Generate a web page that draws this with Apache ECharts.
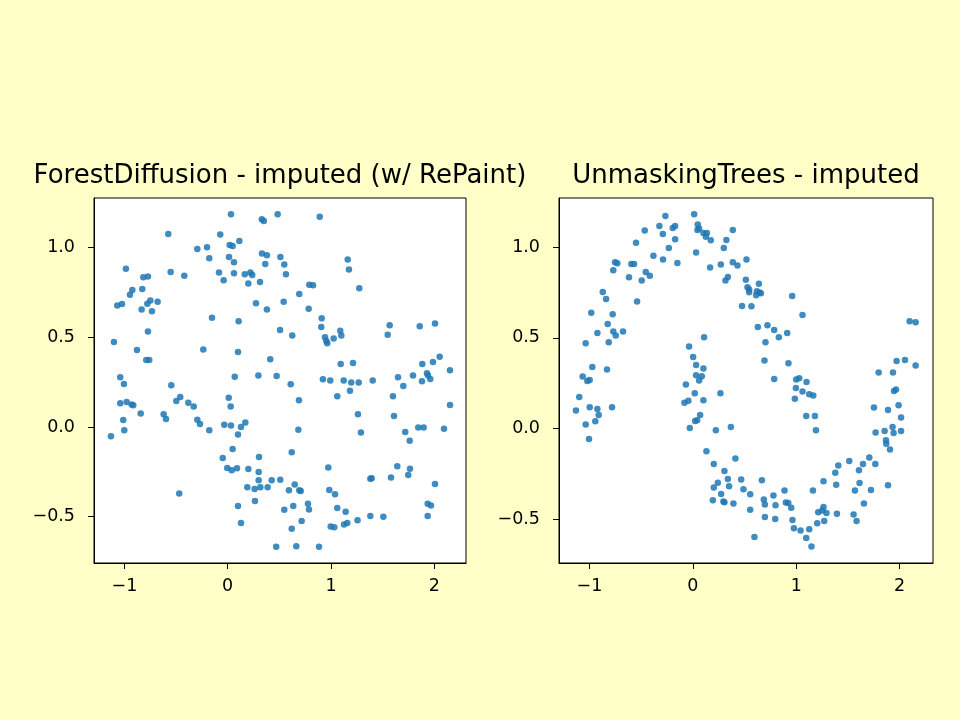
<!DOCTYPE html>
<html>
<head>
<meta charset="utf-8">
<title>imputed moons</title>
<script src="https://cdn.jsdelivr.net/npm/echarts@6.0.0/dist/echarts.min.js"></script>
<style>
  body { margin: 0; background: #ffffc8; }
  #chart { width: 960px; height: 720px; }
</style>
</head>
<body>
<div id="chart"></div>
<script>
// titles of the two panels
var titles = ['ForestDiffusion - imputed (w/ RePaint)', 'UnmaskingTrees - imputed'];

// tick values
var xTicks = [-1, 0, 1, 2];
var yTicks = [-0.5, 0, 0.5, 1.0];

// axis ranges
var leftXRange = [-1.294, 2.307];
var leftYRange = [-0.758, 1.277];
var rightXRange = [-1.294, 2.323];
var rightYRange = [-0.741, 1.271];

// points, left panel (ForestDiffusion)
var forestPoints = [
  [0.032,1.186],[0.33,1.158],[0.35,1.149],[0.484,1.186],[-0.575,1.076],[-0.072,1.073],
  [-0.294,0.993],[-0.2,1.002],[0.113,1.037],[0.019,1.015],[0.048,1.01],[-0.178,0.941],
  [0.013,0.948],[0.061,0.919],[0.332,0.967],[0.38,0.958],[0.364,0.909],[0.51,0.948],
  [-0.985,0.883],[-0.817,0.835],[-0.772,0.839],[-0.552,0.865],[-0.42,0.844],[-0.084,0.861],
  [0.061,0.857],[-0.039,0.818],[0.165,0.852],[0.219,0.861],[0.238,0.848],[0.2,0.8],
  [0.313,0.809],[-0.923,0.764],[-0.946,0.738],[-0.827,0.77],[-1.069,0.677],[-1.023,0.686],
  [-0.778,0.688],[-0.749,0.705],[-0.678,0.699],[-0.833,0.655],[-0.733,0.645],[0.274,0.69],
  [0.38,0.655],[0.507,0.541],[-0.152,0.61],[0.106,0.59],[-0.772,0.532],[-1.101,0.474],
  [-0.878,0.43],[-0.236,0.432],[0.1,0.418],[-0.788,0.374],[-0.759,0.374],[0.412,0.378],
  [-1.04,0.277],[-1.004,0.24],[0.068,0.281],[0.297,0.288],[0.474,0.285],[-0.546,0.233],
  [0.891,1.173],[0.548,0.906],[0.564,0.852],[1.162,0.934],[1.174,0.879],[0.79,0.794],
  [0.826,0.79],[0.693,0.742],[1.274,0.774],[0.542,0.699],[0.784,0.66],[0.91,0.606],
  [0.906,0.558],[0.625,0.51],[0.942,0.5],[0.955,0.48],[0.964,0.467],[1.026,0.493],
  [1.09,0.537],[1.1,0.511],[1.568,0.567],[1.549,0.515],[1.859,0.562],[2.007,0.577],
  [1.094,0.351],[1.213,0.357],[1.884,0.351],[1.987,0.363],[2.052,0.392],[2.152,0.316],
  [0.922,0.266],[0.993,0.259],[1.123,0.259],[1.196,0.249],[1.268,0.249],[1.404,0.26],
  [1.649,0.277],[1.794,0.288],[1.929,0.3],[1.939,0.287],[1.961,0.268],[1.881,0.255],
  [0.61,0.238],[1.7,0.229],
  [-1.04,0.132],[-0.978,0.139],[-0.93,0.125],[-0.914,0.121],[-0.842,0.075],[-1.011,0.039],
  [-1.001,-0.018],[-1.13,-0.052],[-0.62,0.071],[-0.597,0.045],[-0.497,0.145],[-0.459,0.167],
  [-0.381,0.136],[-0.329,0.115],[-0.294,0.041],[-0.268,0.017],[-0.178,-0.018],[0.01,0.164],
  [0.029,0.115],[-0.033,0.013],[0.032,0.009],[0.1,-0.041],[0.129,0],[0.171,0.026],
  [0.048,-0.123],[-0.048,-0.173],[-0.004,-0.229],[0.039,-0.241],[0.09,-0.23],[0.2,-0.234],
  [0.303,-0.167],[0.3,-0.251],[0.3,-0.297],[0.426,-0.297],[0.509,-0.294],[0.19,-0.335],
  [0.261,-0.346],[0.316,-0.336],[0.387,-0.335],[0.264,-0.413],[0.1,-0.44],[0.129,-0.535],
  [-0.469,-0.37],[0.47,-0.667],
  [0.69,0.149],[1.061,0.171],[1.184,0.203],[1.6,0.171],[2.152,0.123],[1.261,0.071],
  [1.61,0.061],[0.684,-0.015],[1.29,-0.031],[1.719,-0.028],[1.762,-0.076],[1.845,-0.002],
  [1.897,-0.002],[2.094,-0.009],[0.62,-0.141],[0.974,-0.225],[0.649,-0.321],[0.593,-0.353],
  [0.693,-0.353],[0.707,-0.357],[0.984,-0.351],[1.039,-0.374],[1.381,-0.288],[1.394,-0.286],
  [1.581,-0.281],[1.642,-0.219],[1.765,-0.232],[1.748,-0.268],[2.007,-0.318],[0.548,-0.461],
  [0.635,-0.44],[0.777,-0.427],[0.787,-0.46],[0.716,-0.524],[0.62,-0.567],[1.061,-0.452],
  [1.142,-0.472],[0.997,-0.554],[1.032,-0.559],[1.126,-0.544],[1.158,-0.535],[1.257,-0.519],
  [1.381,-0.496],[1.507,-0.5],[1.936,-0.427],[1.968,-0.437],[1.936,-0.496],[0.664,-0.664],
  [0.884,-0.667]
];

// points, right panel (UnmaskingTrees)
var unmaskPoints = [
  [-0.265,1.172],[0.013,1.181],[0.048,1.125],[0.061,1.103],[0.045,1.095],[0.103,1.078],
  [0.136,1.078],[0.126,1.058],[0.174,1.038],[0.387,1.095],[-0.323,1.117],[-0.194,1.106],
  [-0.171,1.117],[-0.465,1.092],[-0.29,1.073],[-0.171,1.044],[-0.549,1.025],[-0.232,0.996],
  [0.032,0.97],[0.325,1.04],[0.3,0.996],[-0.381,0.952],[-0.288,0.932],[-0.149,0.913],
  [-0.752,0.917],[-0.73,0.911],[-0.594,0.907],[-0.568,0.907],[-0.769,0.873],[0.167,0.888],
  [0.271,0.904],[0.387,0.917],[0.432,0.899],[-0.617,0.834],[-0.455,0.863],[-0.416,0.843],
  [-0.494,0.816],[0.339,0.836],[0.316,0.816],[-0.871,0.753],[-0.839,0.714],[-0.539,0.7],
  [-0.982,0.639],[-0.775,0.63],[0.476,0.675],[-0.823,0.577],[-0.923,0.527],[-0.769,0.535],
  [-0.745,0.513],[-0.675,0.535],[-1.036,0.47],[-0.813,0.476],[0.109,0.503],[-0.036,0.452],
  [0.003,0.395],[0.032,0.351],[0.103,0.331],[0.032,0.294],[0.087,0.288],[0.061,0.265],
  [-0.972,0.34],[-0.83,0.325],[-1.065,0.287],[-1.02,0.262],[-0.997,0.268],[-0.067,0.243],
  [-1.098,0.174],[-1.13,0.099],[-0.997,0.117],[-0.923,0.108],[-0.91,0.075],[-0.781,0.117],
  [-0.943,0.04],[-1.036,0.022],[-1.004,-0.057],[0.019,0.195],[-0.081,0.143],[-0.043,0.154],
  [0.103,0.156],[0.267,0.195],[0.071,0.075],[0.022,0.042],[0.042,0.046],[-0.029,0.003],
  [0.223,-0.009],[0.368,0.009],[0.132,-0.125],[0.203,-0.195],[0.412,-0.165],[0.306,-0.234],
  [0.339,-0.278],[0.468,-0.281],[0.242,-0.298],[0.203,-0.325],[0.351,-0.318],[0.49,-0.335],
  [0.274,-0.361],[0.194,-0.395],[0.296,-0.402],[0.306,-0.406],[0.393,-0.413],
  [0.519,0.932],[0.513,0.821],[0.529,0.779],[0.545,0.766],[0.545,0.751],[0.639,0.799],
  [0.62,0.757],[0.613,0.735],[0.645,0.75],[0.658,0.746],[0.567,0.674],[0.961,0.731],
  [1.061,0.626],[0.629,0.56],[0.722,0.569],[0.787,0.544],[0.832,0.503],[0.913,0.527],
  [0.703,0.476],[0.693,0.375],[0.925,0.36],[0.787,0.273],[1.0,0.27],[1.029,0.277],
  [1.1,0.257],[2.097,0.592],[2.155,0.586],[1.971,0.373],[2.052,0.378],[2.155,0.347],
  [1.797,0.309],[1.936,0.309],
  [0.997,0.224],[1.061,0.204],[1.126,0.189],[1.165,0.182],[0.987,0.165],[1.097,0.069],
  [1.181,0.069],[1.191,-0.009],[1.946,0.207],[1.965,0.215],[1.752,0.116],[1.888,0.103],
  [1.99,0.128],[2.014,0.061],[1.932,0.009],[1.855,-0.013],[1.768,-0.022],[1.942,-0.024],
  [2.014,-0.013],[1.868,-0.064],[1.871,-0.083],[1.907,-0.116],[1.707,-0.16],[1.765,-0.195],
  [1.513,-0.179],[1.646,-0.195],[1.607,-0.23],[1.407,-0.204],[1.378,-0.243],[1.613,-0.3],
  [1.387,-0.309],[1.264,-0.291],[1.162,-0.342],[1.568,-0.342],[1.723,-0.338],[1.888,-0.313],
  [1.655,-0.413],[1.555,-0.474],[1.584,-0.509],[1.394,-0.469],[1.264,-0.432],[1.252,-0.452],
  [1.293,-0.465],[1.213,-0.461],[1.271,-0.509],[1.203,-0.522],[1.126,-0.555],[1.042,-0.562],
  [0.978,-0.549],[1.097,-0.603],[1.148,-0.65],[0.964,-0.504],[0.887,-0.342],[0.9,-0.408],
  [0.923,-0.41],[0.952,-0.436],[0.78,-0.369],[0.8,-0.423],[0.797,-0.498],[0.687,-0.391],
  [0.697,-0.419],[0.697,-0.487],[0.668,-0.285],[0.555,-0.362],[0.555,-0.447],[0.596,-0.598]
];

var FONT = 'DejaVu Sans';

function minus(s) {
    return s.charAt(0) == '-' ? '\u2212' + s.slice(1) : s;
}

function makeX(idx, range) {
    return {
        type: 'value', gridIndex: idx, min: range[0], max: range[1],
        splitLine: { show: false },
        axisLine: { show: true, onZero: false, lineStyle: { color: '#000', width: 1 } },
        axisTick: { show: true, inside: false, length: 6, customValues: xTicks, lineStyle: { color: '#000', width: 1 } },
        axisLabel: {
            customValues: xTicks, margin: 14, color: '#000', fontFamily: FONT, fontSize: 17.5,
            formatter: function (v) { return minus(String(v)); }
        }
    };
}

function makeY(idx, range) {
    return {
        type: 'value', gridIndex: idx, min: range[0], max: range[1],
        splitLine: { show: false },
        axisLine: { show: true, onZero: false, lineStyle: { color: '#000', width: 1 } },
        axisTick: { show: true, inside: false, length: 6, customValues: yTicks, lineStyle: { color: '#000', width: 1 } },
        axisLabel: {
            customValues: yTicks, margin: 19, color: '#000', fontFamily: FONT, fontSize: 17.5,
            formatter: function (v) { return minus(v.toFixed(1)); }
        }
    };
}

function makeSeries(idx, pts) {
    return {
        type: 'scatter', xAxisIndex: idx, yAxisIndex: idx,
        data: pts, symbolSize: 6.5,
        itemStyle: { color: '#1f77b4', opacity: 0.85 }
    };
}

var chart = echarts.init(document.getElementById('chart'));
var option = {
    backgroundColor: '#ffffc8',
    animation: false,
    title: [
        { text: titles[0], left: 280, top: 163, textAlign: 'center', padding: 0,
          textStyle: { fontFamily: FONT, fontSize: 26, fontWeight: 'normal', color: '#000' } },
        { text: titles[1], left: 746, top: 163, textAlign: 'center', padding: 0,
          textStyle: { fontFamily: FONT, fontSize: 26, fontWeight: 'normal', color: '#000' } }
    ],
    grid: [
        { left: 94, top: 198, right: 494, bottom: 157, show: true, backgroundColor: '#fff', borderColor: '#000', borderWidth: 1 },
        { left: 559, top: 198, right: 27, bottom: 157, show: true, backgroundColor: '#fff', borderColor: '#000', borderWidth: 1 }
    ],
    xAxis: [makeX(0, leftXRange), makeX(1, rightXRange)],
    yAxis: [makeY(0, leftYRange), makeY(1, rightYRange)],
    series: [makeSeries(0, forestPoints), makeSeries(1, unmaskPoints)]
};
chart.setOption(option);
</script>
</body>
</html>
